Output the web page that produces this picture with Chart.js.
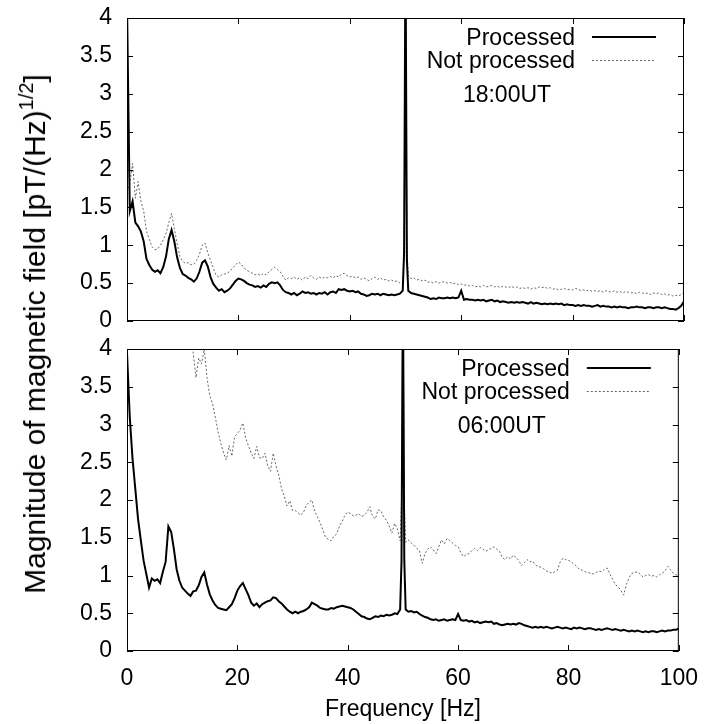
<!DOCTYPE html>
<html>
<head>
<meta charset="utf-8">
<script src="https://cdn.jsdelivr.net/npm/chart.js@4/dist/chart.umd.min.js"></script>
<style>
html,body{margin:0;padding:0;background:#fff;}
#wrap{position:relative;width:712px;height:724px;overflow:hidden;background:#fff;}
#wrap canvas{position:absolute;left:0;}
#c1{top:-20px;}
#c2{top:319px;}
#ylab{position:absolute;left:35px;top:334px;transform:translate(-50%,-50%) rotate(-90deg);white-space:nowrap;font-family:"Liberation Sans",Arial,sans-serif;font-size:30px;color:#000;line-height:1;}
#ylab sup{font-size:20px;vertical-align:0.6em;line-height:0;}
</style>
</head>
<body>
<div id="wrap">
<canvas id="c1" width="712" height="371"></canvas>
<canvas id="c2" width="712" height="405"></canvas>
<div id="ylab">Magnitude of magnetic field [pT/(Hz)<sup>1/2</sup>]</div>
</div>
<script>
// ---------------- data ----------------
const seriesNames = ['Processed', 'Not processed'];
const panelTimes = ['18:00UT', '06:00UT'];
const xTickValues = [0, 20, 40, 60, 80, 100];
const yTickValues = [0, 0.5, 1, 1.5, 2, 2.5, 3, 3.5, 4];
const xTitle = 'Frequency [Hz]';

const freq = [
  0,0.5,1,1.5,2,2.5,3,3.5,4,4.5,5,5.5,6,6.5,7,7.5,8,8.5,9,9.5,
  10,10.5,11,11.5,12,12.5,13,13.5,14,14.5,15,15.5,16,16.5,17,17.5,18,18.5,19,19.5,
  20,20.5,21,21.5,22,22.5,23,23.5,24,24.5,25,25.5,26,26.5,27,27.5,28,28.5,29,29.5,
  30,30.5,31,31.5,32,32.5,33,33.5,34,34.5,35,35.5,36,36.5,37,37.5,38,38.5,39,39.5,
  40,40.5,41,41.5,42,42.5,43,43.5,44,44.5,45,45.5,46,46.5,47,47.5,48,48.5,49,49.5,
  49.75,50,50.25,
  50.5,51,51.5,52,52.5,53,53.5,54,54.5,55,55.5,56,56.5,57,57.5,58,58.5,59,59.5,60,
  60.5,61,61.5,62,62.5,63,63.5,64,64.5,65,65.5,66,66.5,67,67.5,68,68.5,69,69.5,70,
  70.5,71,71.5,72,72.5,73,73.5,74,74.5,75,75.5,76,76.5,77,77.5,78,78.5,79,79.5,80,
  80.5,81,81.5,82,82.5,83,83.5,84,84.5,85,85.5,86,86.5,87,87.5,88,88.5,89,89.5,90,
  90.5,91,91.5,92,92.5,93,93.5,94,94.5,95,95.5,96,96.5,97,97.5,98,98.5,99,99.5,100
];

// 18:00UT panel
const processed18 = [
  4.2,1.45,1.58,1.30,1.25,1.18,1.05,0.82,0.74,0.68,0.65,0.67,0.63,0.71,0.85,1.08,1.20,1.05,0.84,0.70,
  0.62,0.60,0.57,0.55,0.52,0.56,0.65,0.77,0.80,0.72,0.58,0.49,0.44,0.40,0.42,0.38,0.40,0.43,0.48,0.53,
  0.56,0.55,0.53,0.50,0.48,0.47,0.45,0.46,0.44,0.47,0.45,0.49,0.51,0.50,0.51,0.47,0.41,0.38,0.37,0.35,
  0.37,0.34,0.36,0.39,0.37,0.38,0.36,0.37,0.35,0.37,0.36,0.38,0.35,0.38,0.39,0.37,0.42,0.41,0.42,0.40,
  0.39,0.40,0.38,0.39,0.36,0.35,0.33,0.34,0.36,0.35,0.36,0.34,0.36,0.35,0.34,0.35,0.34,0.35,0.36,0.40,
  0.9,5,0.8,
  0.40,0.37,0.36,0.35,0.34,0.33,0.32,0.31,0.29,0.30,0.29,0.31,0.30,0.30,0.31,0.30,0.31,0.30,0.31,0.40,
  0.28,0.29,0.28,0.28,0.27,0.28,0.27,0.28,0.26,0.27,0.28,0.26,0.27,0.25,0.26,0.25,0.24,0.25,0.24,0.25,
  0.24,0.25,0.24,0.23,0.25,0.23,0.24,0.23,0.22,0.23,0.22,0.23,0.22,0.23,0.22,0.23,0.21,0.22,0.21,0.21,
  0.20,0.21,0.20,0.21,0.20,0.20,0.19,0.20,0.21,0.19,0.20,0.19,0.19,0.18,0.19,0.18,0.19,0.18,0.18,0.17,
  0.18,0.18,0.19,0.18,0.18,0.17,0.18,0.18,0.17,0.18,0.18,0.17,0.18,0.17,0.16,0.16,0.15,0.17,0.20,0.26
];
const raw18 = [
  1.70,1.80,2.08,1.62,1.84,1.58,1.45,1.18,1.08,0.98,0.94,0.95,1.00,1.07,1.15,1.30,1.42,1.22,1.02,0.85,
  0.79,0.76,0.77,0.74,0.75,0.80,0.88,1.00,1.03,0.90,0.80,0.70,0.60,0.58,0.61,0.62,0.63,0.66,0.70,0.74,
  0.78,0.75,0.70,0.67,0.65,0.63,0.61,0.62,0.60,0.63,0.61,0.65,0.68,0.71,0.68,0.65,0.59,0.54,0.57,0.56,
  0.58,0.55,0.57,0.54,0.58,0.56,0.60,0.57,0.55,0.58,0.56,0.58,0.57,0.59,0.57,0.60,0.58,0.62,0.63,0.60,
  0.58,0.59,0.57,0.58,0.55,0.57,0.55,0.53,0.56,0.58,0.55,0.57,0.54,0.55,0.53,0.54,0.52,0.53,0.50,0.48,
  1.0,5,1.0,
  0.59,0.56,0.57,0.54,0.55,0.53,0.54,0.51,0.52,0.50,0.52,0.50,0.51,0.52,0.50,0.51,0.49,0.50,0.48,0.49,
  0.47,0.48,0.46,0.47,0.45,0.46,0.45,0.47,0.45,0.46,0.47,0.45,0.46,0.44,0.46,0.45,0.44,0.46,0.44,0.45,
  0.43,0.44,0.43,0.44,0.42,0.44,0.43,0.45,0.44,0.45,0.43,0.44,0.42,0.43,0.41,0.42,0.43,0.41,0.42,0.41,
  0.43,0.42,0.40,0.41,0.40,0.41,0.39,0.40,0.39,0.40,0.38,0.40,0.39,0.38,0.40,0.38,0.39,0.37,0.39,0.38,
  0.37,0.38,0.36,0.38,0.37,0.36,0.37,0.35,0.37,0.36,0.37,0.35,0.36,0.34,0.35,0.33,0.34,0.33,0.35,0.38
];

// 06:00UT panel
const processed06 = [
  3.95,3.10,2.55,2.15,1.75,1.47,1.20,1.02,0.84,0.96,0.93,0.95,0.90,1.05,1.18,1.65,1.58,1.35,1.08,0.93,
  0.84,0.80,0.76,0.73,0.79,0.80,0.87,0.98,1.04,0.88,0.75,0.67,0.61,0.57,0.56,0.55,0.54,0.58,0.62,0.70,
  0.80,0.86,0.90,0.82,0.74,0.64,0.60,0.63,0.58,0.62,0.64,0.66,0.67,0.71,0.70,0.66,0.63,0.59,0.55,0.52,
  0.50,0.52,0.50,0.52,0.53,0.55,0.58,0.64,0.62,0.60,0.57,0.56,0.55,0.55,0.57,0.56,0.58,0.59,0.60,0.59,
  0.58,0.57,0.55,0.52,0.49,0.46,0.45,0.43,0.42,0.44,0.46,0.45,0.47,0.46,0.48,0.47,0.48,0.50,0.49,0.55,
  1.2,5,1.2,
  0.55,0.52,0.53,0.51,0.52,0.49,0.47,0.45,0.44,0.42,0.41,0.42,0.40,0.41,0.42,0.40,0.41,0.42,0.41,0.49,
  0.41,0.40,0.41,0.39,0.40,0.38,0.39,0.37,0.38,0.39,0.38,0.39,0.36,0.37,0.35,0.34,0.35,0.36,0.35,0.36,
  0.35,0.37,0.36,0.34,0.33,0.32,0.31,0.32,0.31,0.32,0.31,0.32,0.31,0.30,0.31,0.32,0.31,0.30,0.31,0.30,
  0.29,0.31,0.30,0.31,0.30,0.29,0.30,0.30,0.29,0.28,0.29,0.28,0.29,0.30,0.29,0.28,0.29,0.28,0.27,0.28,
  0.27,0.26,0.27,0.26,0.27,0.26,0.25,0.26,0.25,0.26,0.26,0.25,0.26,0.27,0.26,0.27,0.27,0.28,0.28,0.30
];
const raw06 = [
  null,null,null,null,null,null,null,null,null,null,null,null,null,null,null,null,null,null,null,null,
  null,null,null,4.6,3.95,3.62,3.88,3.80,4.00,3.62,3.38,3.28,3.10,2.90,2.75,2.62,2.53,2.72,2.58,2.84,
  2.88,2.93,3.02,2.82,2.72,2.62,2.55,2.71,2.56,2.55,2.62,2.45,2.38,2.62,2.45,2.33,2.15,2.05,1.92,1.99,
  1.86,1.86,1.83,1.80,1.84,1.93,1.97,2.00,1.85,1.78,1.70,1.60,1.50,1.48,1.46,1.52,1.55,1.65,1.72,1.80,
  1.84,1.82,1.79,1.80,1.82,1.78,1.80,1.84,1.91,1.78,1.75,1.87,1.86,1.78,1.73,1.66,1.56,1.69,1.62,1.46,
  2.0,5,2.0,
  1.44,1.47,1.43,1.40,1.36,1.33,1.16,1.29,1.35,1.38,1.34,1.29,1.38,1.47,1.42,1.49,1.46,1.43,1.40,1.38,
  1.30,1.25,1.28,1.29,1.33,1.36,1.33,1.37,1.35,1.32,1.34,1.36,1.38,1.35,1.32,1.24,1.21,1.25,1.22,1.27,
  1.24,1.20,1.13,1.17,1.21,1.18,1.19,1.14,1.12,1.11,1.09,1.06,1.05,1.03,1.05,1.07,1.18,1.23,1.21,1.20,
  1.18,1.15,1.12,1.08,1.07,1.05,1.04,1.03,1.02,1.04,1.06,1.05,1.08,1.10,1.02,0.95,0.88,0.85,0.80,0.74,
  0.88,0.97,1.03,1.04,1.05,1.02,0.98,1.00,1.01,0.99,1.00,0.98,1.01,1.03,1.06,1.12,1.08,1.03,1.01,0.99
];

// ---------------- drawing ----------------
const FONT = '"Liberation Sans", Arial, Helvetica, sans-serif';
const FS = 23;
const toPts = vals => freq.map((f, i) => ({ x: f, y: vals[i] }));

const framePlugin = {
  id: 'frame',
  afterDatasetsDraw(chart, args, opts) {
    const { ctx, chartArea: a, scales: { x, y } } = chart;
    ctx.save();
    ctx.strokeStyle = '#000';
    ctx.lineWidth = 1;
    ctx.setLineDash([]);
    ctx.strokeRect(a.left + 0.5, a.top + 0.5, a.right - a.left - 1, a.bottom - a.top - 1);
    const L = 6;
    ctx.beginPath();
    xTickValues.forEach(v => {
      const px = Math.round(x.getPixelForValue(v)) + 0.5;
      ctx.moveTo(px, a.bottom); ctx.lineTo(px, a.bottom - L);
      ctx.moveTo(px, a.top); ctx.lineTo(px, a.top + L);
    });
    yTickValues.forEach(v => {
      const py = Math.round(y.getPixelForValue(v)) + 0.5;
      ctx.moveTo(a.left, py); ctx.lineTo(a.left + L, py);
      ctx.moveTo(a.right, py); ctx.lineTo(a.right - L, py);
    });
    ctx.stroke();

    // key (legend) in gnuplot style: text then line sample
    const ds = chart.data.datasets;
    const r = a.right, t = a.top;
    ctx.font = FS + 'px ' + FONT;
    ctx.fillStyle = '#000';
    ctx.textAlign = 'right';
    ctx.textBaseline = 'alphabetic';
    ctx.fillText(ds[0].label, r - 109, t + 27);
    ctx.fillText(ds[1].label, r - 109, t + 50);
    ctx.textAlign = 'center';
    ctx.fillText(opts.time, r - 177, t + 84);

    ctx.beginPath();
    ctx.strokeStyle = ds[0].borderColor;
    ctx.lineWidth = ds[0].borderWidth;
    ctx.moveTo(r - 92, t + 19); ctx.lineTo(r - 28, t + 19);
    ctx.stroke();
    ctx.beginPath();
    ctx.strokeStyle = ds[1].borderColor;
    ctx.lineWidth = ds[1].borderWidth;
    ctx.setLineDash(ds[1].borderDash);
    ctx.moveTo(r - 92, t + 42.5); ctx.lineTo(r - 28, t + 42.5);
    ctx.stroke();
    ctx.restore();
  }
};

function makeDatasets(proc, raw) {
  return [
    { label: seriesNames[0], data: toPts(proc), borderColor: '#000', borderWidth: 2,
      pointRadius: 0, tension: 0, spanGaps: false },
    { label: seriesNames[1], data: toPts(raw), borderColor: '#666', borderWidth: 1,
      borderDash: [2, 2], pointRadius: 0, tension: 0, spanGaps: false }
  ];
}

function yScale() {
  return {
    type: 'linear', min: 0, max: 4,
    afterBuildTicks: s => { s.ticks = yTickValues.map(v => ({ value: v })); },
    afterFit: s => { s.width = 127; },
    grid: { display: false, drawTicks: false },
    border: { display: false },
    ticks: { font: { family: FONT, size: FS }, color: '#000', padding: 15,
      callback: v => String(v) }
  };
}

// pads: layout padding so that the plot boxes land at the reference positions
function makeChart(id, proc, raw, time, bottomAxis, pads) {
  const xs = {
    type: 'linear', min: 0, max: 100,
    afterBuildTicks: s => { s.ticks = xTickValues.map(v => ({ value: v })); },
    grid: { display: false, drawTicks: false },
    border: { display: false }
  };
  if (bottomAxis) {
    xs.display = true;
    xs.afterFit = s => { s.height = 73; };
    xs.ticks = { font: { family: FONT, size: FS }, color: '#000', padding: 14,
      maxRotation: 0, autoSkip: false, callback: v => String(v) };
    xs.title = { display: true, text: xTitle, color: '#000',
      font: { family: FONT, size: FS }, padding: { top: 0, bottom: 1 } };
  } else {
    xs.display = false;
  }
  return new Chart(document.getElementById(id), {
    type: 'line',
    data: { datasets: makeDatasets(proc, raw) },
    options: {
      responsive: false,
      maintainAspectRatio: false,
      animation: false,
      devicePixelRatio: 1,
      layout: { padding: pads },
      scales: { x: xs, y: yScale() },
      plugins: {
        legend: { display: false },
        tooltip: { enabled: false },
        frame: { time: time }
      }
    },
    plugins: [framePlugin]
  });
}

makeChart('c1', processed18, raw18, panelTimes[0], false, { left: 0, right: 28, top: 38, bottom: 30 });
makeChart('c2', processed06, raw06, panelTimes[1], true, { left: 0, right: 28, top: 30, bottom: 0 });
</script>
</body>
</html>
